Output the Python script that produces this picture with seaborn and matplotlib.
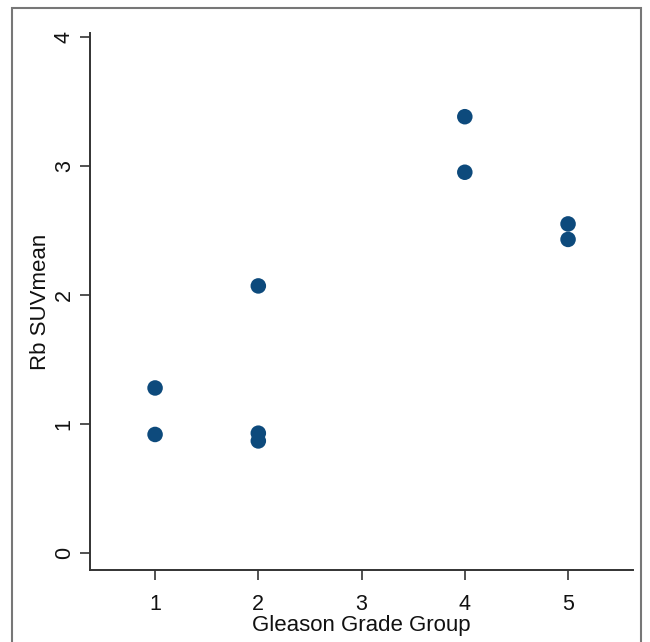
import matplotlib
matplotlib.use("Agg")
import matplotlib.pyplot as plt
import seaborn as sns
import pandas as pd
from matplotlib.patches import Rectangle

grade_group = [1, 1, 2, 2, 2, 4, 4, 5, 5]
suv_mean = [1.28, 0.92, 2.07, 0.93, 0.87, 3.38, 2.95, 2.55, 2.43]
x_ticks = [1, 2, 3, 4, 5]
y_ticks = [0, 1, 2, 3, 4]

df = pd.DataFrame({"Gleason Grade Group": grade_group, "Rb SUVmean": suv_mean})

sns.set_theme(style="ticks")
plt.rcParams['font.family'] = ['Liberation Sans', 'DejaVu Sans']

fig = plt.figure(figsize=(6.5, 6.42), dpi=100)
ax = fig.add_axes([0.1385, 0.112, 0.974 - 0.1385, 0.949 - 0.112])

sns.scatterplot(data=df, x="Gleason Grade Group", y="Rb SUVmean", ax=ax,
                color="#0d4a7c", s=125, edgecolor="none", linewidth=0)

ax.set_xlim(0.37, 5.63)
ax.set_ylim(-0.13, 4.03)
ax.set_xticks(x_ticks)
ax.set_yticks(y_ticks)
ax.set_xticklabels([str(v) for v in x_ticks], fontsize=15.5)
ax.set_yticklabels([str(v) for v in y_ticks], fontsize=15.5, rotation=90, va="center")
ax.tick_params(axis="both", length=7, width=1.2, color="#333333", labelcolor="#111111")
ax.tick_params(axis="x", pad=10)
ax.tick_params(axis="y", pad=4)
ax.set_xlabel("Gleason Grade Group", fontsize=16, labelpad=0, color="#111111")
ax.set_ylabel("Rb SUVmean", fontsize=16, labelpad=2, color="#111111")
for sp in ["top", "right"]:
    ax.spines[sp].set_visible(False)
for sp in ["left", "bottom"]:
    ax.spines[sp].set_linewidth(1.4)
    ax.spines[sp].set_color("#333333")

fig.patches.append(Rectangle((12 / 650, -0.01), (641 - 12) / 650, 1 - 8 / 642 + 0.01,
                             transform=fig.transFigure, fill=False,
                             edgecolor="#777777", linewidth=1.5))

fig.savefig("out.png", dpi=100)
